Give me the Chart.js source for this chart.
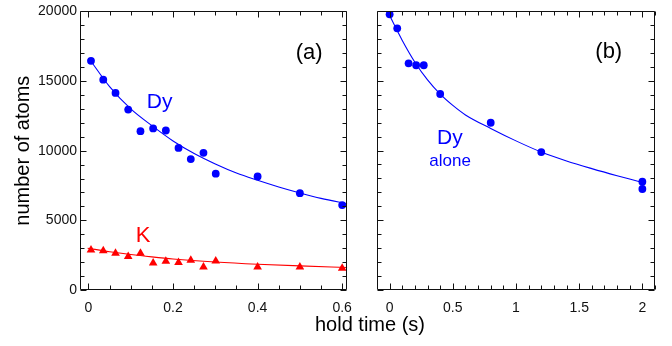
<!DOCTYPE html>
<html>
<head>
<meta charset="utf-8">
<script src="https://cdn.jsdelivr.net/npm/chart.js@4/dist/chart.umd.min.js"></script>
<style>
  html, body { margin: 0; padding: 0; background: #fff; }
  #wrap { position: relative; width: 672px; height: 346px; overflow: hidden; }
  canvas { position: absolute; top: 0; }
  #xtitle { position: absolute; left: 0; width: 740px; top: 314px; text-align: center;
            font: 20px 'Liberation Sans', Arial, sans-serif; line-height: 20px; color: #000; }
</style>
</head>
<body>
<div id="wrap">
  <canvas id="ca" width="362" height="346" style="left:0"></canvas>
  <canvas id="cb" width="310" height="346" style="left:362px"></canvas>
  <div id="xtitle">hold time (s)</div>
</div>
<script>
// ---- data ----
const dyTime  = [0.006, 0.035, 0.064, 0.094, 0.123, 0.153, 0.183, 0.213, 0.242, 0.272, 0.301, 0.4, 0.5, 0.6];
const dyAtoms = [16450, 15100, 14150, 12950, 11400, 11600, 11450, 10200, 9400, 9850, 8350, 8150, 6950, 6100];
const kTime   = [0.006, 0.035, 0.064, 0.094, 0.123, 0.153, 0.183, 0.213, 0.242, 0.272, 0.301, 0.4, 0.5, 0.6];
const kAtoms  = [2880, 2810, 2640, 2400, 2640, 1930, 2070, 1970, 2140, 1660, 2090, 1660, 1660, 1570];
const dyFitTime  = [0.003, 0.05, 0.1, 0.15, 0.2, 0.25, 0.3, 0.35, 0.4, 0.45, 0.5, 0.55, 0.612];
const dyFitAtoms = [16550, 14600, 13000, 11800, 10700, 9800, 9050, 8400, 7880, 7400, 6970, 6580, 6190];
const kFitTime  = [-0.002, 0.05, 0.1, 0.15, 0.2, 0.3, 0.4, 0.5, 0.612];
const kFitAtoms = [3000, 2750, 2550, 2380, 2230, 2010, 1850, 1730, 1620];
const aloneTime  = [0, 0.06, 0.15, 0.21, 0.27, 0.4, 0.8, 1.2, 2, 2];
const aloneAtoms = [19760, 18760, 16250, 16110, 16110, 14050, 11990, 9890, 7760, 7240];
const aloneFitTime  = [-0.01, 0.1, 0.2, 0.3, 0.4, 0.5, 0.6, 0.8, 1.0, 1.2, 1.4, 1.6, 1.8, 2.0, 2.02];
const aloneFitAtoms = [19850, 17890, 16330, 15060, 14040, 13230, 12550, 11580, 10690, 9890, 9250, 8700, 8190, 7710, 7660];
const xTicksA = [0, 0.2, 0.4, 0.6];
const xTicksB = [0, 0.5, 1, 1.5, 2];
const yTicks  = [0, 5000, 10000, 15000, 20000];

const BLUE = '#0000ff', RED = '#ff0000';
Chart.defaults.font.family = "'Liberation Sans', Arial, sans-serif";
Chart.defaults.color = '#000';

const pts = (xs, ys) => xs.map((x, i) => ({x, y: ys[i]}));

function frameTicks(xMinor) {
  return {
    id: 'frameTicks',
    afterDatasetsDraw(chart) {
      const {ctx, chartArea: a, scales: {x, y}} = chart;
      ctx.save();
      ctx.strokeStyle = '#111';
      ctx.lineWidth = 1;
      ctx.beginPath();
      const L = Math.round(a.left) + 0.5, R = Math.round(a.right) - 0.5;
      const T = Math.round(a.top) + 0.5, B = Math.round(a.bottom) - 0.5;
      ctx.rect(L, T, R - L, B - T);
      const maj = 6, mnr = 4;
      for (let v = 0, i = 0; v <= x.max + 1e-9; i++, v = i * xMinor) {
        const px = Math.round(x.getPixelForValue(v)) + 0.5;
        const isMaj = x.ticks.some(t => Math.abs(t.value - v) < 1e-9);
        const len = isMaj ? maj : mnr;
        ctx.moveTo(px, B); ctx.lineTo(px, B - len);
        ctx.moveTo(px, T); ctx.lineTo(px, T + len);
      }
      for (let v = 0; v <= 20000; v += 1000) {
        const py = Math.round(y.getPixelForValue(v)) + 0.5;
        const len = (v % 5000 === 0) ? maj : mnr;
        ctx.moveTo(L, py); ctx.lineTo(L + len, py);
        ctx.moveTo(R, py); ctx.lineTo(R - len, py);
      }
      ctx.stroke();
      ctx.restore();
    }
  };
}

function labels(items) {
  return {
    id: 'labels',
    afterDatasetsDraw(chart) {
      const {ctx, scales: {x, y}} = chart;
      ctx.save();
      items.forEach(it => {
        ctx.font = it.size + "px 'Liberation Sans', Arial, sans-serif";
        ctx.fillStyle = it.color;
        ctx.textAlign = it.align;
        ctx.textBaseline = 'alphabetic';
        ctx.fillText(it.text, x.getPixelForValue(it.x), y.getPixelForValue(it.y));
      });
      ctx.restore();
    }
  };
}

function makeScales(xmin, xmax, xt, yWidth, showY) {
  return {
    x: {
      type: 'linear', min: xmin, max: xmax,
      afterBuildTicks: s => { s.ticks = xt.map(v => ({value: v})); },
      afterFit: s => { s.height = 56; },
      grid: {display: false, drawTicks: false},
      border: {display: false},
      ticks: {font: {size: 14}, color: '#111', padding: 10, maxRotation: 0, autoSkip: false,
              callback: v => String(v)}
    },
    y: {
      type: 'linear', min: 0, max: 20000,
      afterBuildTicks: s => { s.ticks = yTicks.map(v => ({value: v})); },
      afterFit: s => { s.width = yWidth; },
      grid: {display: false, drawTicks: false},
      border: {display: false},
      ticks: {display: showY, font: {size: 14}, color: '#111', padding: 3, callback: v => String(v)},
      title: {display: showY, text: 'number of atoms', font: {size: 20}, color: '#000',
              padding: {top: 11, bottom: 0}}
    }
  };
}

const common = {
  responsive: false, animation: false, devicePixelRatio: 1,
  plugins: {legend: {display: false}, tooltip: {enabled: false}}
};

new Chart(document.getElementById('ca'), {
  type: 'scatter',
  data: {datasets: [
    {data: pts(dyTime, dyAtoms), pointStyle: 'circle', pointRadius: 3.9, backgroundColor: BLUE, borderColor: BLUE, borderWidth: 0, order: 1},
    {data: pts(kTime, kAtoms), pointStyle: 'triangle', pointRadius: 5, backgroundColor: RED, borderColor: RED, borderWidth: 0, order: 1},
    {data: pts(dyFitTime, dyFitAtoms), showLine: true, pointRadius: 0, borderColor: BLUE, borderWidth: 1.1, cubicInterpolationMode: 'monotone', order: 2},
    {data: pts(kFitTime, kFitAtoms), showLine: true, pointRadius: 0, borderColor: RED, borderWidth: 1.1, cubicInterpolationMode: 'monotone', order: 2}
  ]},
  options: Object.assign({}, common, {
    layout: {padding: {top: 11, right: 3, left: 0, bottom: 0}},
    scales: makeScales(-0.02, 0.612, xTicksA, 80, true)
  }),
  plugins: [frameTicks(0.05), labels([
    {text: 'Dy', x: 0.138, y: 13070, size: 21, color: BLUE, align: 'left'},
    {text: 'K', x: 0.112, y: 3460, size: 22, color: RED, align: 'left'},
    {text: '(a)', x: 0.522, y: 16600, size: 22, color: '#000', align: 'center'}
  ])]
});

new Chart(document.getElementById('cb'), {
  type: 'scatter',
  data: {datasets: [
    {data: pts(aloneTime, aloneAtoms), pointStyle: 'circle', pointRadius: 3.9, backgroundColor: BLUE, borderColor: BLUE, borderWidth: 0, order: 1},
    {data: pts(aloneFitTime, aloneFitAtoms), showLine: true, pointRadius: 0, borderColor: BLUE, borderWidth: 1.1, cubicInterpolationMode: 'monotone', order: 2}
  ]},
  options: Object.assign({}, common, {
    layout: {padding: {top: 11, right: 17, left: 0, bottom: 0}},
    scales: makeScales(-0.1, 2.1, xTicksB, 15, false)
  }),
  plugins: [frameTicks(0.1), labels([
    {text: '(b)', x: 1.734, y: 16600, size: 22, color: '#000', align: 'center'},
    {text: 'Dy', x: 0.477, y: 10440, size: 21, color: BLUE, align: 'center'},
    {text: 'alone', x: 0.478, y: 8890, size: 17, color: BLUE, align: 'center'}
  ])]
});
</script>
</body>
</html>
